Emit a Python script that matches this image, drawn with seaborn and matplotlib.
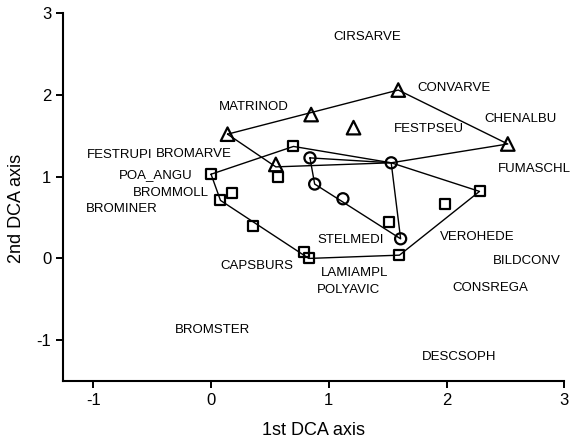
import numpy as np
import pandas as pd
import seaborn as sns
from matplotlib import pyplot as plt

# puntos de las muestras (coordenadas DCA)
tri_x = [0.14, 0.85, 1.21, 0.55, 1.59, 2.52]
tri_y = [1.52, 1.76, 1.60, 1.15, 2.06, 1.40]

circ_x = [0.84, 0.88, 1.12, 1.61, 1.53]
circ_y = [1.23, 0.91, 0.73, 0.24, 1.17]

sq_x = [0.00, 0.08, 0.18, 0.57, 0.70, 0.36, 0.79, 0.83, 1.51, 1.60, 1.99, 2.28]
sq_y = [1.03, 0.71, 0.80, 1.00, 1.37, 0.40, 0.08, 0.00, 0.44, 0.04, 0.66, 0.82]

# contornos de los grupos
tri_hull_x = [0.14, 1.59, 2.52, 1.53, 0.55, 0.14]
tri_hull_y = [1.52, 2.06, 1.40, 1.17, 1.12, 1.52]
circ_hull_x = [0.84, 1.53, 1.61, 0.88, 0.84]
circ_hull_y = [1.23, 1.17, 0.24, 0.91, 1.23]
sq_hull_x = [0.00, 0.70, 1.53, 2.28, 1.60, 0.83, 0.08, 0.00]
sq_hull_y = [1.03, 1.37, 1.17, 0.82, 0.04, 0.00, 0.71, 1.03]

# especies
especies = ["CIRSARVE", "CONVARVE", "CHENALBU", "FESTPSEU", "FUMASCHL", "MATRINOD",
            "FESTRUPI", "BROMARVE", "POA_ANGU", "BROMMOLL", "BROMINER", "CAPSBURS",
            "BROMSTER", "STELMEDI", "VEROHEDE", "BILDCONV", "LAMIAMPL", "POLYAVIC",
            "CONSREGA", "DESCSOPH"]
esp_x = [1.33, 2.06, 2.63, 1.85, 2.75, 0.36, -0.78, -0.15, -0.47, -0.34, -0.76, 0.39,
         0.01, 1.19, 2.26, 2.68, 1.22, 1.17, 2.37, 2.11]
esp_y = [2.71, 2.08, 1.70, 1.58, 1.10, 1.85, 1.27, 1.28, 1.02, 0.80, 0.60, -0.09,
         -0.87, 0.22, 0.26, -0.03, -0.18, -0.39, -0.36, -1.20]

sns.set_style("ticks", {"axes.edgecolor": "black", "axes.labelcolor": "black",
                        "xtick.color": "black", "ytick.color": "black",
                        "text.color": "black"})
plt.rcParams['font.family'] = ['Liberation Sans', 'DejaVu Sans']
plt.rcParams['axes.unicode_minus'] = False

fig = plt.figure(figsize=(5.7, 4.4), dpi=100)
ax = fig.add_axes([0.111, 0.134, 0.879, 0.836])

for hx, hy in [(tri_hull_x, tri_hull_y), (circ_hull_x, circ_hull_y), (sq_hull_x, sq_hull_y)]:
    ax.plot(hx, hy, color="black", lw=1.0, zorder=2)

df = pd.concat([
    pd.DataFrame({"x": tri_x, "y": tri_y, "grupo": "tri"}),
    pd.DataFrame({"x": circ_x, "y": circ_y, "grupo": "circ"}),
    pd.DataFrame({"x": sq_x, "y": sq_y, "grupo": "sq"}),
])
marcadores = {"tri": "^", "circ": "o", "sq": "s"}
tamanos = {"tri": 95, "circ": 64, "sq": 52}
for g, sub in df.groupby("grupo"):
    sns.scatterplot(data=sub, x="x", y="y", marker=marcadores[g], s=tamanos[g],
                    facecolors="none", edgecolor="black", linewidth=1.6,
                    ax=ax, zorder=3, legend=False)

for nombre, x, y in zip(especies, esp_x, esp_y):
    ax.text(x, y, nombre, ha="center", va="center", fontsize=9.5, color="black")

ax.set_xlim(-1.255, 3)
ax.set_ylim(-1.5, 3)
ax.set_xticks([-1, 0, 1, 2, 3])
ax.set_yticks([-1, 0, 1, 2, 3])
ax.set_xlabel("1st DCA axis", fontsize=13, labelpad=10)
ax.set_ylabel("2nd DCA axis", fontsize=13)
ax.yaxis.set_label_coords(-0.076, 0.47)
ax.tick_params(labelsize=12, width=1.4, length=5, direction="out")
for s in ["left", "bottom"]:
    ax.spines[s].set_linewidth(1.5)
sns.despine(ax=ax)

fig.savefig("out.png", dpi=100)
